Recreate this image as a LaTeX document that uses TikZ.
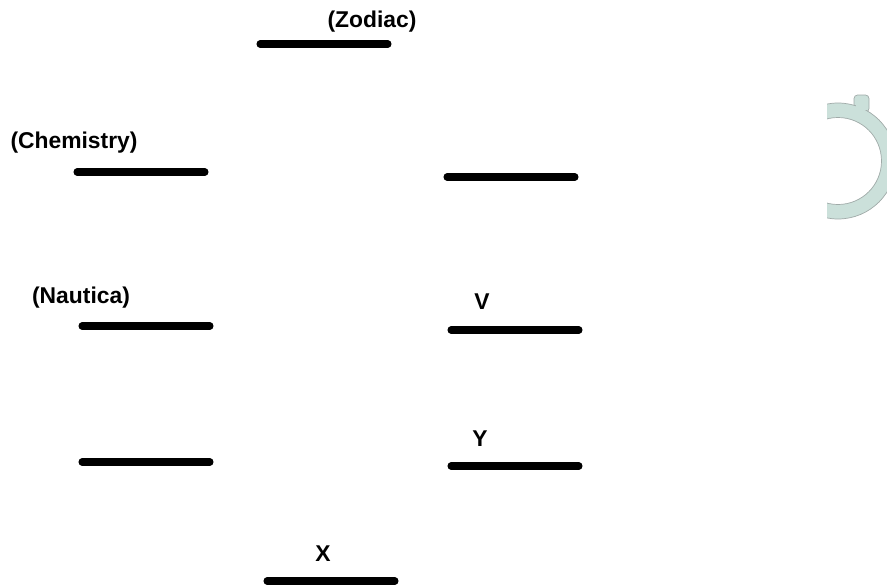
\documentclass[tikz,border=0pt]{standalone}
\usepackage{fontspec}
\setmainfont{Liberation Sans}
\usepackage{tikz}
\usetikzlibrary{calc}

\definecolor{ringfill}{RGB}{203,224,218}
\definecolor{ringedge}{RGB}{160,170,168}

\begin{document}
\begin{tikzpicture}[x=0.03cm,y=-0.03cm,line cap=round,
  blank/.style={line width=6pt},
  lbl/.style={font=\fontsize{19.5}{22}\selectfont\bfseries,inner sep=0pt}]
% Frame (fixes the margins)
\useasboundingbox (0,0) rectangle (887,586);

% Blanks
\foreach \x/\y in {260/44,77/172,447/177,82/326,451/330,82/462,451/466,267/581} {
  \draw[blank] (\x,\y) -- (\x+128,\y);
}

% Labels
\node[lbl] (zodiac) at (372,22) {(Zodiac)};
\node[lbl] (chem) at (74,143) {(Chemistry)};
\node[lbl] (naut) at (81,298) {(Nautica)};
\node[lbl] (v) at (482,302) {V};
\node[lbl] (y) at (480,439) {Y};
\node[lbl] (x) at (323,554) {X};

% Ring (cut off on its left and right)
\begin{scope}
  \clip (827,80) rectangle (887,230);
  \fill[ringfill,draw=ringedge,line width=0.6pt,rounded corners=3pt]
    (854,112) -- (854,95) -- (869,95) -- (869,112) -- cycle;
  \fill[ringfill,draw=ringedge,line width=0.6pt,even odd rule]
    (838,161) circle (58) (838,161) circle (43.5);
  \fill[ringfill] (855.5,100) rectangle (867.5,110);
\end{scope}

\end{tikzpicture}
\end{document}
